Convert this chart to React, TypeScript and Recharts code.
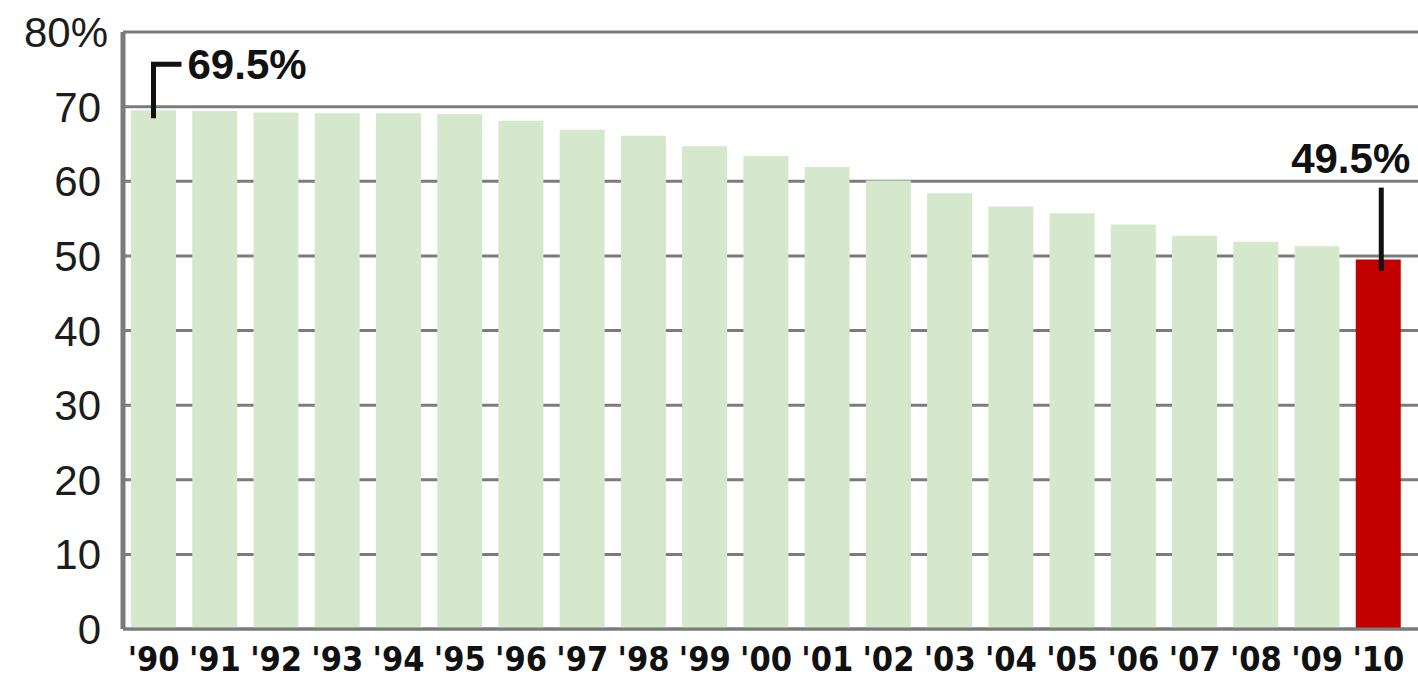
import React from "react";
import { BarChart, Bar, XAxis, YAxis, CartesianGrid, Cell, LabelList } from "recharts";

const years = ["'90", "'91", "'92", "'93", "'94", "'95", "'96", "'97", "'98", "'99", "'00", "'01", "'02", "'03", "'04", "'05", "'06", "'07", "'08", "'09", "'10"];
const shares = [69.5, 69.4, 69.2, 69.1, 69.1, 69.0, 68.1, 66.9, 66.1, 64.7, 63.4, 61.9, 60.1, 58.4, 56.6, 55.7, 54.2, 52.7, 51.9, 51.3, 49.5];
const yTicks = [0, 10, 20, 30, 40, 50, 60, 70, 80];
const highlightYear = "'10";
const firstCallout = "'90";
const lastCallout = "'10";

const data = years.map((year, i) => ({ year, share: shares[i] }));

const GREEN = "#d5e8cc";
const RED = "#c30000";
const GRID = "#7b7b7b";
const INK = "#111";

function YTick(props: any) {
  const { x, y, payload } = props;
  const top = payload.value === yTicks[yTicks.length - 1];
  return (
    <text
      x={top ? x - 7 : x - 14}
      y={y}
      dy="0.36em"
      textAnchor="end"
      fontFamily="'Liberation Sans', Arial, sans-serif"
      fontSize={42}
      fill="#1c1c1c"
    >
      {top ? `${payload.value}%` : payload.value}
    </text>
  );
}

function XTick(props: any) {
  const { x, y, payload } = props;
  return (
    <text
      x={x}
      y={y}
      dy={34}
      textAnchor="middle"
      fontFamily="'Liberation Sans Narrow', 'DejaVu Sans Condensed', 'Liberation Sans', sans-serif"
      fontWeight="bold"
      fontSize={34}
      fill="#111"
    >
      {payload.value}
    </text>
  );
}

function Callout(props: any) {
  const { x, y, width, index, value } = props;
  const year = years[index];
  const label = `${Number(value).toFixed(1)}%`;
  const cx = x + width / 2;
  if (year === firstCallout) {
    const elbow = y - 46;
    return (
      <g>
        <polyline
          points={`${cx},${y + 8} ${cx},${elbow} ${cx + 28},${elbow}`}
          fill="none"
          stroke={INK}
          strokeWidth={5}
        />
        <text
          x={cx + 34}
          y={elbow + 15}
          fontFamily="'Liberation Sans', Arial, sans-serif"
          fontWeight="bold"
          fontSize={42}
          fill={INK}
        >
          {label}
        </text>
      </g>
    );
  }
  if (year === lastCallout) {
    return (
      <g>
        <line x1={cx + 3} y1={y + 11} x2={cx + 3} y2={y - 72} stroke={INK} strokeWidth={5} />
        <text
          x={cx + 32}
          y={y - 87}
          textAnchor="end"
          fontFamily="'Liberation Sans', Arial, sans-serif"
          fontWeight="bold"
          fontSize={42}
          fill={INK}
        >
          {label}
        </text>
      </g>
    );
  }
  return null;
}

export default function App() {
  return (
    <div style={{ position: "absolute", left: 0, top: 0, width: 1418, height: 680, background: "#fff" }}>
      <BarChart
        width={1418}
        height={680}
        data={data}
        margin={{ top: 32, right: 0, left: 0, bottom: 0 }}
        barCategoryGap={8}
      >
        <CartesianGrid horizontal vertical={false} stroke={GRID} strokeWidth={3} />
        <XAxis
          dataKey="year"
          height={51}
          padding={{ left: 0, right: 9 }}
          axisLine={{ stroke: GRID, strokeWidth: 3 }}
          tickLine={false}
          tick={<XTick />}
          interval={0}
        />
        <YAxis
          width={123}
          domain={[0, 80]}
          ticks={yTicks}
          axisLine={{ stroke: GRID, strokeWidth: 5 }}
          tickLine={false}
          tick={<YTick />}
        />
        <Bar dataKey="share" isAnimationActive={false}>
          {data.map((d) => (
            <Cell key={d.year} fill={d.year === highlightYear ? RED : GREEN} />
          ))}
          <LabelList dataKey="share" content={<Callout />} />
        </Bar>
      </BarChart>
    </div>
  );
}
